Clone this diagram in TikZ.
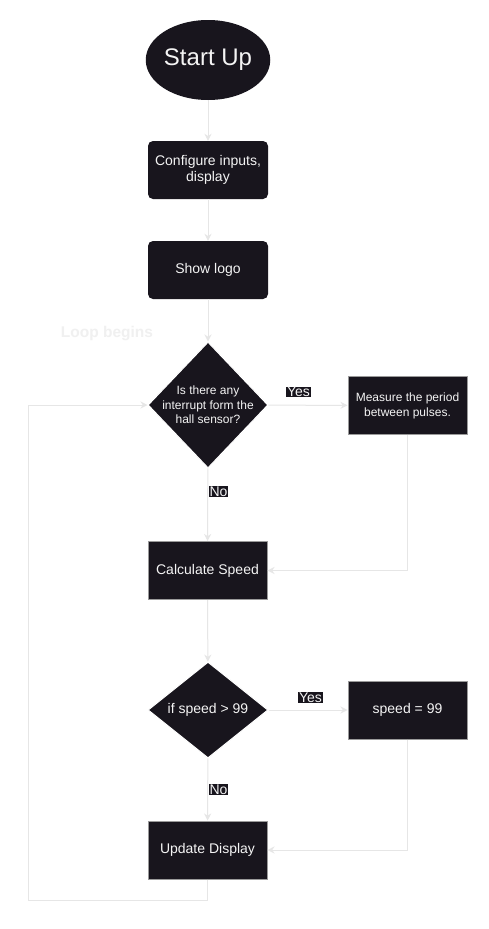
\documentclass[tikz,border=0pt]{standalone}
\usepackage{fontspec}
\setmainfont{Liberation Sans}
\usetikzlibrary{shapes.geometric,arrows.meta}
\definecolor{dk}{HTML}{18151D}
\definecolor{ln}{HTML}{E6E6E6}
\definecolor{bd}{HTML}{9A9A9A}
\definecolor{tx}{HTML}{F4F4F4}
\definecolor{lp}{HTML}{F0F0F0}
\tikzset{
  term/.style={ellipse, fill=dk, minimum width=120pt, minimum height=80pt, inner sep=0pt,
    text=tx, font=\fontsize{24}{28}\selectfont},
  rbox/.style={rectangle, rounded corners=5pt, fill=dk, minimum width=120pt, minimum height=58pt,
    text=tx, align=center, font=\fontsize{14}{16}\selectfont},
  sbox/.style={rectangle, fill=dk, draw=bd, line width=1pt, minimum width=119pt, minimum height=58pt,
    text=tx, align=center, font=\fontsize{14}{16}\selectfont},
  dia/.style={diamond, fill=dk, draw=white, line width=1pt, minimum width=120pt, inner sep=0pt},
  diatext/.style={text=tx, align=center, font=\fontsize{12}{14.5}\selectfont},
  lab/.style={fill=dk, text=tx, inner sep=0.6pt, font=\fontsize{14}{15}\selectfont},
  conn/.style={draw=ln, line width=1pt, -{Stealth[length=7pt,width=7pt]}},
}
\begin{document}
\begin{tikzpicture}[x=1pt,y=-1pt]
\useasboundingbox (0,0) rectangle (489,929);
\fill[white] (0,0) rectangle (489,929);

\node[term] (start) at (208,60) {Start Up};
\node[rbox] (cfg) at (208,170) {Configure inputs,\\display};
\node[rbox] (logo) at (208,270) {Show logo};
\node[text=lp, font=\bfseries\fontsize{15.5}{18}\selectfont] (loop) at (107,334) {Loop begins};

\node[dia, minimum height=126pt] (d1) at (208,405) {};
\node[diatext] (d1t) at (208,405) {Is there any\\interrupt form the\\hall sensor?};
\node[sbox, font=\fontsize{12}{15}\selectfont] (meas) at (407.5,405.5) {Measure the period\\between pulses.};
\node[sbox] (calc) at (207.5,570.5) {Calculate Speed};

\node[dia, minimum height=96pt] (d2) at (208,710) {};
\node[diatext, font=\fontsize{14}{16}\selectfont] (d2t) at (208,710) {if speed > 99};
\node[sbox] (sp) at (407.5,710) {speed = 99};
\node[sbox] (upd) at (207.5,850) {Update Display};

\coordinate (lb) at (28,900);

\draw[conn] (start) -- (cfg);
\draw[conn] (cfg) -- (logo);
\draw[conn] (logo) -- (d1);
\draw[conn] (d1) -- (meas);
\draw[conn] (d1) -- (calc);
\draw[conn] (meas.south) |- (calc.east);
\draw[conn] (calc) -- (d2);
\draw[conn] (d2) -- (sp);
\draw[conn] (d2) -- (upd);
\draw[conn] (sp.south) |- (upd.east);
\draw[conn] (upd.south) |- (lb) |- (d1.west);

\node[lab] (y1) at (298.5,392) {Yes};
\node[lab] (n1) at (218.5,491.5) {No};
\node[lab] (y2) at (310.5,697.5) {Yes};
\node[lab] (n2) at (218.5,789.5) {No};
\end{tikzpicture}
\end{document}
